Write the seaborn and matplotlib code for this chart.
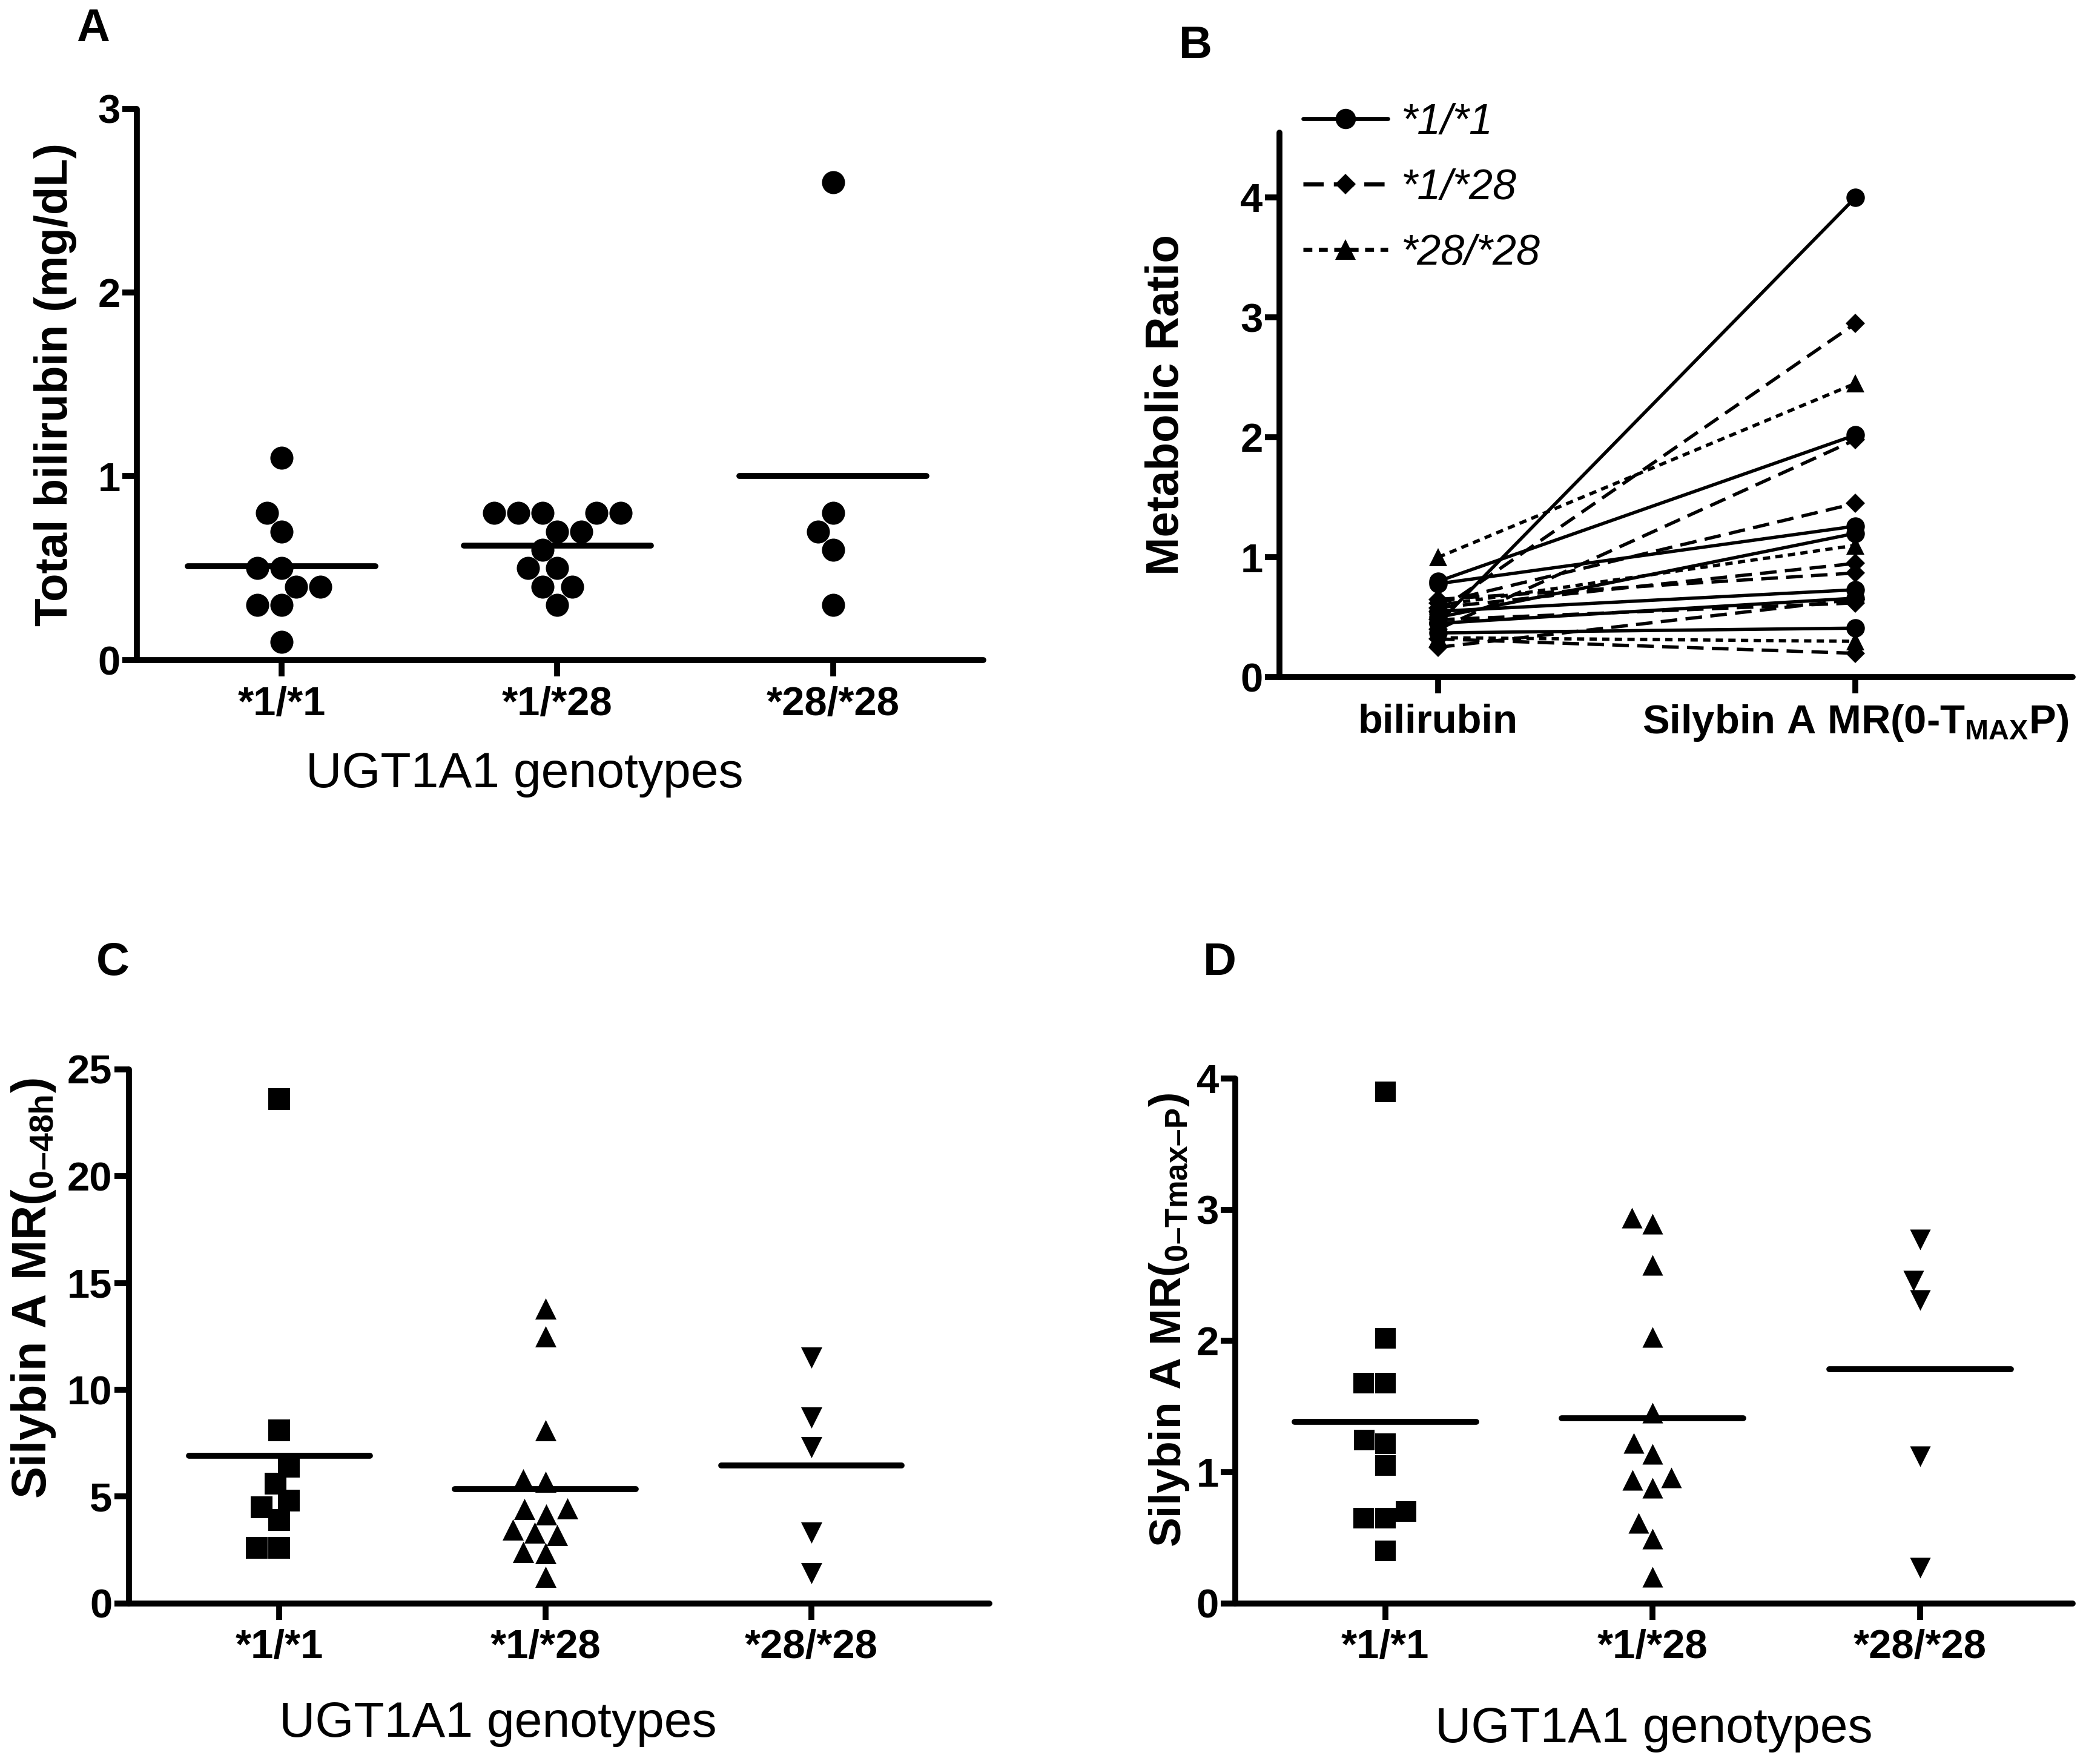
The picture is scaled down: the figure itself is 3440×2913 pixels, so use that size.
import numpy as np
import pandas as pd
import seaborn as sns
import matplotlib.pyplot as plt

genotypes = ['*1/*1', '*1/*28', '*28/*28']

# Panel A: total bilirubin (mg/dL) per genotype
bili_11 = [1.1, 0.8, 0.7, 0.5, 0.5, 0.4, 0.4, 0.3, 0.3, 0.1]
bili_128 = [0.8, 0.8, 0.8, 0.8, 0.8, 0.7, 0.7, 0.6, 0.5, 0.5, 0.4, 0.4, 0.3]
bili_2828 = [2.6, 0.8, 0.7, 0.6, 0.3]

# Panel C: silybin A MR(0-48h)
mr48_11 = [23.6, 8.1, 6.4, 5.6, 4.8, 4.5, 3.9, 2.6, 2.6]
mr48_128 = [13.8, 12.5, 8.1, 5.8, 5.7, 4.45, 4.4, 4.15, 3.45, 3.3, 3.2, 2.4, 2.35, 1.25]
mr48_2828 = [11.5, 8.7, 7.3, 3.3, 1.4]

# Panel D: silybin A MR(0-Tmax-P)
mrt_11 = [3.9, 2.02, 1.68, 1.68, 1.245, 1.215, 1.05, 0.70, 0.65, 0.65, 0.40]
mrt_128 = [2.94, 2.89, 2.58, 2.03, 1.45, 1.22, 1.14, 0.96, 0.94, 0.88, 0.61, 0.49, 0.20]
mrt_2828 = [2.77, 2.46, 2.31, 1.12, 0.27]

# Panel B: paired metabolic ratios per subject
b_genotype = ['*1/*1'] * 7 + ['*1/*28'] * 8 + ['*28/*28'] * 3
b_bilirubin = [0.45, 0.80, 0.78, 0.50, 0.55, 0.45, 0.37,
               0.55, 0.40, 0.62, 0.58, 0.65, 0.48, 0.32, 0.25,
               1.00, 0.60, 0.33]
b_silybin = [4.00, 2.02, 1.26, 1.20, 0.73, 0.66, 0.41,
             2.95, 1.98, 1.45, 0.95, 0.87, 0.62, 0.20, 0.65,
             2.45, 1.10, 0.30]
b_xticklabels = ['bilirubin', r'Silybin A MR(0-T${}_{\mathregular{MAX}}$P)']

sns.set_theme(style='ticks')
plt.rcParams['font.family'] = ['Liberation Sans', 'DejaVu Sans']
plt.rcParams['mathtext.fontset'] = 'custom'
plt.rcParams['mathtext.rm'] = 'Liberation Sans'
plt.rcParams['mathtext.it'] = 'Liberation Sans:italic'
plt.rcParams['mathtext.bf'] = 'Liberation Sans:bold'
plt.rcParams['axes.linewidth'] = 3.2
plt.rcParams['axes.edgecolor'] = 'black'
plt.rcParams['axes.labelcolor'] = 'black'
plt.rcParams['text.color'] = 'black'
plt.rcParams['xtick.color'] = 'black'
plt.rcParams['ytick.color'] = 'black'
plt.rcParams['xtick.labelcolor'] = 'black'
plt.rcParams['ytick.labelcolor'] = 'black'


def long_df(groups):
    rows = []
    for g, vals in zip(genotypes, groups):
        for v in vals:
            rows.append({'genotype': g, 'value': v})
    return pd.DataFrame(rows)


def style_axes(ax, xlim, ylim, yticks):
    sns.despine(ax=ax)
    ax.set_xlim(*xlim)
    ax.set_ylim(*ylim)
    ax.set_yticks(yticks)
    ax.tick_params(axis='y', length=8, width=3.2, pad=1, labelsize=22)
    ax.tick_params(axis='x', length=9, width=3.2, pad=5, labelsize=22)
    for lab in ax.get_xticklabels() + ax.get_yticklabels():
        lab.set_fontweight('bold')
    for s in ax.spines.values():
        s.set_capstyle('round')


def dot_panel(ax, df, markers, size):
    for g, m in zip(genotypes, markers):
        sns.swarmplot(data=df[df['genotype'] == g], x='genotype', y='value',
                      order=genotypes, marker=m, color='black', size=size,
                      linewidth=0, ax=ax)
    means = df.groupby('genotype')['value'].mean().reindex(genotypes)
    pos = np.arange(len(genotypes))
    ax.hlines(means.values, pos - 0.34, pos + 0.34, color='black',
              lw=3.2, capstyle='round', zorder=5)


fig = plt.figure(figsize=(15.68, 13.278))

# ---- A
axA = fig.add_axes([0.0657, 0.6258, 0.4063, 0.3125])
dfA = long_df([bili_11, bili_128, bili_2828])
dot_panel(axA, dfA, ['o', 'o', 'o'], 12.5)
style_axes(axA, (-0.525, 2.545), (0, 3), [0, 1, 2, 3])
axA.set_ylabel('Total bilirubin (mg/dL)', fontsize=25, fontweight='bold', va='center')
axA.yaxis.set_label_coords(-0.096, 0.5)
axA.set_xlabel('UGT1A1 genotypes', fontsize=27, va='center')
axA.xaxis.set_label_coords(0.458, -0.207)

# ---- B
axB = fig.add_axes([0.6142, 0.6160, 0.3807, 0.3087])
dfB = pd.DataFrame({
    'subject': list(range(len(b_genotype))) * 2,
    'genotype': b_genotype * 2,
    'pos': [0] * len(b_genotype) + [1] * len(b_genotype),
    'mr': b_bilirubin + b_silybin,
})
sns.lineplot(data=dfB, x='pos', y='mr', units='subject', estimator=None,
             style='genotype', style_order=genotypes,
             markers={'*1/*1': 'o', '*1/*28': 'D', '*28/*28': '^'},
             dashes={'*1/*1': '', '*1/*28': (5, 2.5), '*28/*28': (2.2, 1.6)},
             color='black', lw=1.8, markersize=10, markeredgewidth=0,
             sort=False, ax=axB)
for ln in axB.lines:
    if ln.get_marker() == 'D':
        ln.set_markersize(7.5)
style_axes(axB, (-0.38, 1.52), (0, 4.54), [0, 1, 2, 3, 4])
axB.set_xticks([0, 1])
axB.set_xticklabels(b_xticklabels, fontweight='bold')
axB.set_xlabel('')
axB.set_ylabel('Metabolic Ratio', fontsize=25, fontweight='bold', va='center')
axB.yaxis.set_label_coords(-0.142, 0.5)
handles, labels = axB.get_legend_handles_labels()
keep = [(h, l) for h, l in zip(handles, labels) if l in genotypes]
for h, l in keep:
    h.set_color('black')
    h.set_linewidth(2.2)
    h.set_markersize(8 if l == '*1/*28' else 11)
axB.legend([h for h, _ in keep], [l for _, l in keep], loc='upper left',
           bbox_to_anchor=(0.03, 1.055), frameon=False, handlelength=2.0,
           handletextpad=0.3, labelspacing=0.6, borderpad=0, borderaxespad=0,
           prop={'family': 'Liberation Sans', 'style': 'italic', 'size': 23})

# ---- C
axC = fig.add_axes([0.0619, 0.0911, 0.4132, 0.3027])
dfC = long_df([mr48_11, mr48_128, mr48_2828])
dot_panel(axC, dfC, ['s', '^', 'v'], 11.5)
style_axes(axC, (-0.565, 2.67), (0, 25), [0, 5, 10, 15, 20, 25])
axC.set_ylabel('Silybin A MR(${}_{\\mathregular{0\u201348h}}$)', fontsize=26,
               fontweight='bold', va='center')
axC.yaxis.set_label_coords(-0.111, 0.59)
axC.set_xlabel('UGT1A1 genotypes', fontsize=27, va='center')
axC.xaxis.set_label_coords(0.429, -0.226)

# ---- D
axD = fig.add_axes([0.5931, 0.0911, 0.4018, 0.2975])
dfD = long_df([mrt_11, mrt_128, mrt_2828])
dot_panel(axD, dfD, ['s', '^', 'v'], 11.2)
style_axes(axD, (-0.56, 2.57), (0, 4), [0, 1, 2, 3, 4])
axD.set_ylabel('Silybin A MR(${}_{\\mathregular{0\u2013Tmax\u2013P}}$)', fontsize=24,
               fontweight='bold', va='center')
axD.yaxis.set_label_coords(-0.079, 0.54)
axD.set_xlabel('UGT1A1 genotypes', fontsize=27, va='center')
axD.xaxis.set_label_coords(0.5, -0.24)

# panel letters
for letter, x, y in [('A', 0.0446, 0.9834), ('B', 0.574, 0.9736),
                     ('C', 0.0542, 0.454), ('D', 0.5855, 0.454)]:
    fig.text(x, y, letter, fontsize=25, fontweight='bold', ha='center', va='center')

fig.savefig('out.png', dpi=219.4, facecolor='white')
